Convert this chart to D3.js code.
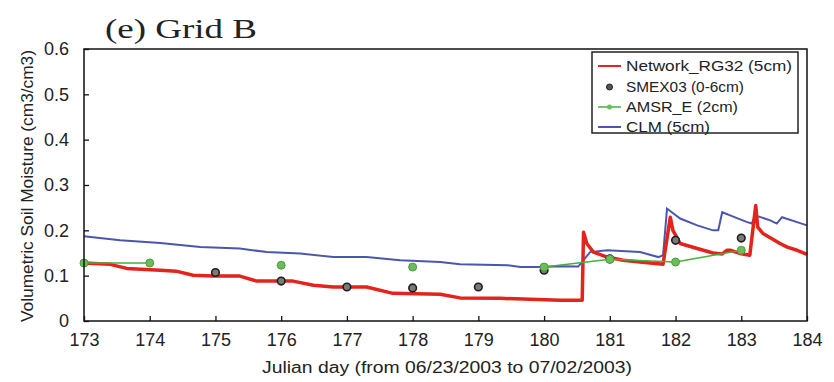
<!DOCTYPE html>
<html><head><meta charset="utf-8">
<script src="https://cdn.jsdelivr.net/npm/d3@7"></script>
<style>body{margin:0;background:#fff}svg{display:block}</style>
</head><body>
<svg id="c" width="834" height="382"></svg>
<script>
// ---- data ----
const xTicks = [173,174,175,176,177,178,179,180,181,182,183,184];
const yTicks = [0,0.1,0.2,0.3,0.4,0.5,0.6];
const networkDay = [173.00,173.40,173.65,174.16,174.40,174.66,174.96,175.37,175.63,176.18,176.49,176.79,177.30,177.70,178.42,178.72,179.33,180.25,180.58,180.60,180.65,180.75,180.96,181.20,181.46,181.81,181.92,181.96,182.07,182.33,182.57,182.71,182.78,182.83,182.98,183.13,183.22,183.25,183.33,183.59,183.70,183.85,184.00];
const networkVal = [0.128,0.125,0.116,0.112,0.110,0.101,0.099,0.099,0.088,0.088,0.079,0.075,0.075,0.061,0.059,0.051,0.050,0.046,0.046,0.196,0.171,0.152,0.141,0.134,0.130,0.125,0.229,0.200,0.171,0.160,0.150,0.148,0.156,0.156,0.149,0.145,0.255,0.207,0.193,0.171,0.163,0.156,0.147];
const clmDay = [173.00,173.55,174.16,174.77,175.37,175.78,176.29,176.79,177.30,177.81,178.42,178.72,179.44,179.64,179.94,180.25,180.52,180.70,180.96,181.46,181.74,181.81,181.87,182.07,182.33,182.57,182.65,182.71,182.83,183.09,183.16,183.21,183.44,183.54,183.62,183.85,184.00];
const clmVal = [0.187,0.178,0.172,0.163,0.160,0.152,0.149,0.141,0.141,0.134,0.130,0.125,0.123,0.119,0.119,0.121,0.120,0.152,0.156,0.152,0.141,0.145,0.248,0.226,0.211,0.200,0.200,0.240,0.233,0.218,0.215,0.233,0.222,0.215,0.229,0.218,0.211];
const smexDay = [175,176,177,178,179,180,181,182,183];
const smexVal = [0.107,0.088,0.075,0.073,0.075,0.112,0.137,0.178,0.183];
const amsrDay = [173,174,175,176,177,178,179,180,181,182,183];
const amsrVal = [0.128,0.128,null,0.123,null,0.119,null,0.119,0.136,0.130,0.156];
const legendLabels = ["Network_RG32 (5cm)","SMEX03 (0-6cm)","AMSR_E (2cm)","CLM (5cm)"];

// ---- layout ----
const L=84, R=807, T=49, B=321;
const svg = d3.select("#c");
const x = d3.scaleLinear().domain([173,184]).range([L,R]);
const y = d3.scaleLinear().domain([0,0.6]).range([B,T]);
const font = "Liberation Sans, Arial, sans-serif";
const RED="#e3241d", BLUE="#4b57ad", GREEN="#45b03c", GDOT="#6bbd5a";

// series
const line = d3.line().x(d=>x(d[0])).y(d=>y(d[1]));
const clm = clmDay.map((d,i)=>[d,clmVal[i]]);
const net = networkDay.map((d,i)=>[d,networkVal[i]]);
const amsr = amsrDay.map((d,i)=>[d,amsrVal[i]]);
const smex = smexDay.map((d,i)=>[d,smexVal[i]]);

svg.append("path").attr("d",line(clm)).attr("fill","none").attr("stroke",BLUE).attr("stroke-width",2);
svg.append("path").attr("d",line(net)).attr("fill","none").attr("stroke",RED).attr("stroke-width",3.5).attr("stroke-linejoin","round");
svg.selectAll(".sm").data(smex).enter().append("circle")
  .attr("cx",d=>x(d[0])).attr("cy",d=>y(d[1])).attr("r",3.8)
  .attr("fill","#7a7a7a").attr("stroke","#1e1e1e").attr("stroke-width",1.6);
svg.append("path").attr("d",d3.line().defined(d=>d[1]!=null).x(d=>x(d[0])).y(d=>y(d[1]))(amsr))
  .attr("fill","none").attr("stroke",GREEN).attr("stroke-width",1.5);
svg.selectAll(".am").data(amsr.filter(d=>d[1]!=null)).enter().append("circle")
  .attr("cx",d=>x(d[0])).attr("cy",d=>y(d[1])).attr("r",4)
  .attr("fill",GDOT).attr("stroke","#4f9c45").attr("stroke-width",1);

// frame
svg.append("rect").attr("x",L).attr("y",T).attr("width",R-L).attr("height",B-T)
  .attr("fill","none").attr("stroke","#111").attr("stroke-width",1.5);

// axes
const xa = svg.append("g").attr("transform",`translate(0,${B})`)
  .call(d3.axisBottom(x).tickValues(xTicks).tickSize(-5).tickPadding(12).tickFormat(d3.format("d")));
const ya = svg.append("g").attr("transform",`translate(${L},0)`)
  .call(d3.axisLeft(y).tickValues(yTicks).tickSize(-5).tickPadding(15).tickFormat(d=>d===0?"0":d3.format(".1f")(d)));
[xa,ya].forEach(a=>{
  a.select(".domain").remove();
  a.selectAll(".tick line").attr("stroke","#111").attr("stroke-width",1.3);
  a.selectAll(".tick text").attr("font-family",font).attr("font-size",18).attr("fill","#222");
});

// title
svg.append("text").attr("x",105).attr("y",38).text("(e) Grid B")
  .attr("font-family","Liberation Serif, Times New Roman, serif").attr("font-size",27).attr("fill","#222")
  .attr("textLength",152).attr("lengthAdjust","spacingAndGlyphs");

// axis labels
svg.append("text").attr("x",447).attr("y",373).attr("text-anchor","middle")
  .text("Julian day (from 06/23/2003 to 07/02/2003)")
  .attr("font-family",font).attr("font-size",16).attr("fill","#222")
  .attr("textLength",370).attr("lengthAdjust","spacingAndGlyphs");
svg.append("text").attr("transform","translate(33,186) rotate(-90)").attr("text-anchor","middle")
  .text("Volumetric Soil Moisture (cm3/cm3)")
  .attr("font-family",font).attr("font-size",16).attr("fill","#222")
  .attr("textLength",272).attr("lengthAdjust","spacingAndGlyphs");

// legend
const lg = svg.append("g");
lg.append("rect").attr("x",592).attr("y",52).attr("width",206).attr("height",81)
  .attr("fill","#fff").attr("stroke","#222").attr("stroke-width",1.5);
const rows=[66,87,107,127];
const lx0=598, lx1=621, lt=626;
lg.append("line").attr("x1",lx0).attr("x2",lx1).attr("y1",rows[0]).attr("y2",rows[0]).attr("stroke",RED).attr("stroke-width",2);
lg.append("circle").attr("cx",(lx0+lx1)/2).attr("cy",rows[1]).attr("r",3).attr("fill","#555").attr("stroke","#222");
lg.append("line").attr("x1",lx0).attr("x2",lx1).attr("y1",rows[2]).attr("y2",rows[2]).attr("stroke",GREEN).attr("stroke-width",1.5);
lg.append("circle").attr("cx",(lx0+lx1)/2).attr("cy",rows[2]).attr("r",2.5).attr("fill",GDOT);
lg.append("line").attr("x1",lx0).attr("x2",lx1).attr("y1",rows[3]).attr("y2",rows[3]).attr("stroke",BLUE).attr("stroke-width",2);
const lw=[166,118,112,84];
legendLabels.forEach((t,i)=>{
  lg.append("text").attr("x",lt).attr("y",rows[i]).attr("dy","0.36em").text(t)
    .attr("font-family",font).attr("font-size",15).attr("fill","#222")
    .attr("textLength",lw[i]).attr("lengthAdjust","spacingAndGlyphs");
});
</script>
</body></html>
